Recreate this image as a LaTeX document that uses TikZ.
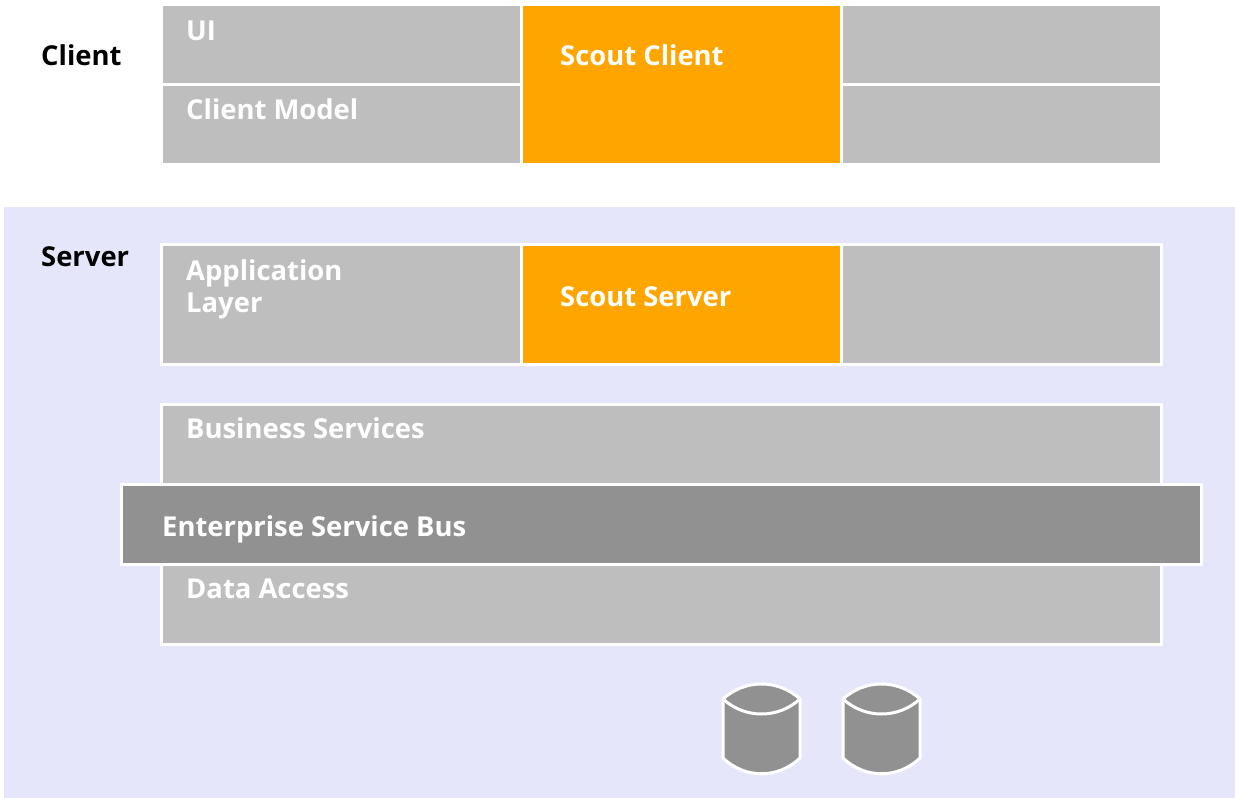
\documentclass[tikz,border=0pt]{standalone}
\usepackage{fontspec}
\setmainfont{Open Sans}
\definecolor{boxgray}{HTML}{BEBEBE}
\definecolor{scout}{HTML}{FFA500}
\definecolor{serverbg}{HTML}{E6E6FA}
\definecolor{busgray}{HTML}{919191}
\tikzset{
  panel/.style={anchor=north west,inner sep=0pt,outer sep=0pt,draw=white,line width=3pt,fill=#1},
  panel/.default=boxgray,
  lab/.style={anchor=base west,inner sep=0pt,font=\fontsize{27.4}{31}\selectfont\bfseries,text=white},
  head/.style={lab,text=black},
  dbbody/.style={fill=busgray,draw=white,line width=3pt,line join=round}
}
\newcommand{\boxat}[5][boxgray]{\node[panel=#1,minimum width=#4pt,minimum height=#5pt] (#2) at (#3) {};}
\newcommand{\dbcyl}[2]{%
  \draw[dbbody] (#1,#2+15) .. controls (#1+22,#2-5) and (#1+55,#2-5) .. (#1+77,#2+15)
     -- (#1+77,#2+74) .. controls (#1+55,#2+95) and (#1+22,#2+95) .. (#1,#2+74) -- cycle;
  \draw[white,line width=3pt] (#1,#2+15) .. controls (#1+22,#2+35) and (#1+55,#2+35) .. (#1+77,#2+15);}
\begin{document}
\begin{tikzpicture}[x=1pt,y=-1pt]
\useasboundingbox (0,0) rectangle (1235,798);
\fill[white] (0,0) rectangle (1235,798);
\fill[serverbg] (4,207) rectangle (1235,798);
\boxat{ui}{161.5,4.5}{360}{80}
\boxat{cm}{161.5,84.5}{360}{80}
\boxat[scout]{sc}{521.5,4.5}{320}{160}
\boxat{r1}{841.5,4.5}{320}{80}
\boxat{r2}{841.5,84.5}{320}{80}
\boxat{al}{161.5,244.5}{360}{120}
\boxat[scout]{ss}{521.5,244.5}{320}{120}
\boxat{r3}{841.5,244.5}{320}{120}
\boxat{bs}{161.5,404.5}{1000}{90}
\boxat{da}{161.5,555}{1000}{89.5}
\boxat[busgray]{esb}{121.5,484.5}{1080}{80}
\node[head] (tclient) at (41,65) {Client};
\node[head] (tserver) at (41,266) {Server};
\node[lab] (tui) at (186,40) {UI};
\node[lab] (tcm) at (186,119) {Client Model};
\node[lab] (tsc) at (560,65) {Scout Client};
\node[lab] (tal) at (186,280) {Application};
\node[lab] (tal2) at (186,312) {Layer};
\node[lab] (tss) at (560,306) {Scout Server};
\node[lab] (tbs) at (186,438) {Business Services};
\node[lab] (tesb) at (162,536) {Enterprise Service Bus};
\node[lab] (tda) at (186,598) {Data Access};
\dbcyl{723}{684}
\dbcyl{843}{684}
\end{tikzpicture}
\end{document}
